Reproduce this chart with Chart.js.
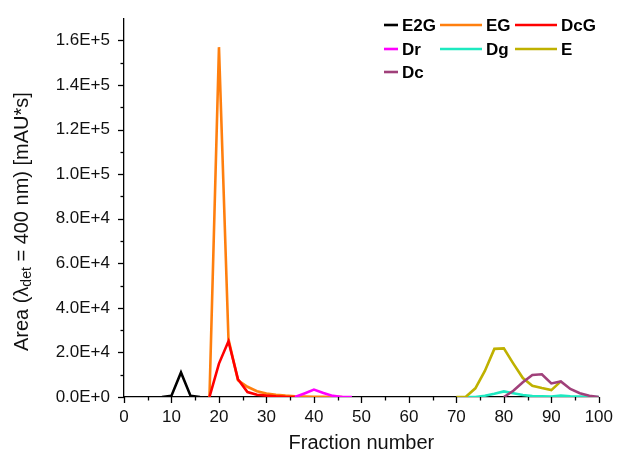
<!DOCTYPE html>
<html>
<head>
<meta charset="utf-8">
<script src="https://cdn.jsdelivr.net/npm/chart.js@4"></script>
<style>
  html, body { margin: 0; padding: 0; background: #fff; }
  #wrap { width: 617px; height: 462px; }
</style>
</head>
<body>
<div id="wrap"><canvas id="chart" width="617" height="462"></canvas></div>
<script>
// series labels and colours
const seriesNames = ["E2G", "EG", "DcG", "Dr", "Dg", "E", "Dc"];
const seriesColors = ["#000000", "#ff7f0e", "#ff0000", "#ff00ff", "#1de9c0", "#bfb100", "#a0407a"];

// fraction numbers and peak areas
const e2gX = [8, 10, 12, 14, 16];
const e2gY = [0, 600, 11000, 600, 0];

const egX = [18, 20, 22, 24, 26, 28, 30, 32, 34, 36, 38, 40, 42, 44, 46];
const egY = [0, 157000, 26000, 7500, 4600, 2600, 1600, 1000, 600, 300, 150, 80, 40, 20, 0];

const dcgX = [18, 20, 22, 24, 26, 28, 30, 32, 34, 36];
const dcgY = [0, 15000, 25000, 8000, 2200, 1000, 600, 300, 100, 0];

const drX = [36, 38, 40, 42, 44, 46, 48];
const drY = [0, 1600, 3300, 1800, 500, 0, 0];

const dgX = [72, 74, 76, 78, 80, 82, 84, 86, 88, 90, 92, 94, 96, 98, 100];
const dgY = [0, 0, 600, 1500, 2500, 1700, 900, 400, 300, 200, 600, 300, 200, 100, 0];

const eX = [70, 72, 74, 76, 78, 80, 82, 84, 86, 88, 90, 92];
const eY = [0, 100, 3900, 11700, 21600, 21800, 15000, 8500, 5000, 4000, 3100, 7000];

const dcX = [80, 82, 84, 86, 88, 90, 92, 94, 96, 98, 100];
const dcY = [0, 2800, 6600, 9900, 10200, 6100, 7000, 3600, 1700, 600, 0];

// axes
const xMin = 0, xMax = 100, xStep = 5, xLabelEvery = 10;
const yMin = 0, yMax = 170000, yStep = 10000, yLabelEvery = 20000;

const allX = [e2gX, egX, dcgX, drX, dgX, eX, dcX];
const allY = [e2gY, egY, dcgY, drY, dgY, eY, dcY];

const FONT = "'Liberation Sans', Arial, sans-serif";

function toPoints(xs, ys) {
  return xs.map((x, i) => ({ x: x, y: ys[i] }));
}

const datasets = seriesNames.map((name, i) => ({
  label: name,
  data: toPoints(allX[i], allY[i]),
  borderColor: seriesColors[i],
  backgroundColor: seriesColors[i],
  borderWidth: 2.6,
  pointRadius: 0,
  tension: 0,
  fill: false,
  order: seriesNames.length - i
}));

// minor/major ticks, y title with subscript, and the 3-column legend
const decorPlugin = {
  id: "decor",
  afterDraw(chart) {
    const ctx = chart.ctx;
    const xs = chart.scales.x, ys = chart.scales.y;
    const area = chart.chartArea;
    ctx.save();
    ctx.strokeStyle = "#000";
    ctx.lineWidth = 1.3;

    for (let v = xMin; v <= xMax; v += xStep) {
      const px = Math.round(xs.getPixelForValue(v)) + 0.5;
      const len = v % xLabelEvery === 0 ? 6 : 3.5;
      ctx.beginPath();
      ctx.moveTo(px, area.bottom);
      ctx.lineTo(px, area.bottom + len);
      ctx.stroke();
    }
    for (let v = yMin; v <= 160000; v += yStep) {
      const py = Math.round(ys.getPixelForValue(v)) + 0.5;
      const len = v % yLabelEvery === 0 ? 6 : 3.5;
      ctx.beginPath();
      ctx.moveTo(area.left, py);
      ctx.lineTo(area.left - len, py);
      ctx.stroke();
    }

    // y axis title
    ctx.fillStyle = "#111";
    ctx.textBaseline = "middle";
    const big = "20px " + FONT, small = "14px " + FONT;
    const parts = [
      { t: "Area (\u03bb", f: big, dy: 0 },
      { t: "det", f: small, dy: 5 },
      { t: " = 400 nm) [mAU*s]", f: big, dy: 0 }
    ];
    let total = 0;
    parts.forEach(p => { ctx.font = p.f; p.w = ctx.measureText(p.t).width; total += p.w; });
    ctx.translate(22, (area.top + area.bottom) / 2 + 14);
    ctx.rotate(-Math.PI / 2);
    let cx = -total / 2;
    ctx.textAlign = "left";
    parts.forEach(p => {
      ctx.font = p.f;
      ctx.fillText(p.t, cx, p.dy);
      cx += p.w;
    });
    ctx.setTransform(1, 0, 0, 1, 0, 0);

    // legend
    const lineStart = [384, 440, 515];
    const lineEnd = [398, 482, 557];
    const textX = [402, 486, 561];
    const rowY = [25, 49, 72];
    ctx.font = "bold 17px " + FONT;
    ctx.textAlign = "left";
    ctx.textBaseline = "middle";
    seriesNames.forEach((name, i) => {
      const c = i % 3, r = Math.floor(i / 3);
      ctx.strokeStyle = seriesColors[i];
      ctx.lineWidth = 2.6;
      ctx.beginPath();
      ctx.moveTo(lineStart[c], rowY[r]);
      ctx.lineTo(lineEnd[c], rowY[r]);
      ctx.stroke();
      ctx.fillStyle = "#000";
      ctx.fillText(name, textX[c], rowY[r] + 1);
    });
    ctx.restore();
  }
};

new Chart(document.getElementById("chart"), {
  type: "line",
  data: { datasets: datasets },
  options: {
    responsive: false,
    animation: false,
    layout: { padding: { top: 11, right: 17, left: 0, bottom: 0 } },
    plugins: {
      legend: { display: false },
      tooltip: { enabled: false }
    },
    scales: {
      x: {
        type: "linear",
        min: xMin,
        max: xMax,
        afterFit: s => { s.height = 65; },
        border: { display: true, color: "#000", width: 1.3 },
        grid: { drawOnChartArea: false, tickLength: 6, tickColor: "transparent" },
        ticks: {
          stepSize: xStep,
          autoSkip: false,
          maxRotation: 0,
          padding: 4,
          color: "#111",
          font: { family: FONT, size: 17 },
          callback: v => (v % xLabelEvery === 0 ? v : "")
        },
        title: {
          display: true,
          text: "Fraction number",
          color: "#111",
          font: { family: FONT, size: 20 },
          padding: { top: 0, bottom: 7 }
        }
      },
      y: {
        min: yMin,
        max: yMax,
        afterFit: s => { s.width = 124; },
        border: { display: true, color: "#000", width: 1.3 },
        grid: { drawOnChartArea: false, tickLength: 6, tickColor: "transparent" },
        ticks: {
          stepSize: yStep,
          autoSkip: false,
          padding: 8,
          color: "#111",
          font: { family: FONT, size: 17 },
          callback: v => (v % yLabelEvery === 0 && v <= 160000
            ? v.toExponential(1).toUpperCase() : "")
        }
      }
    }
  },
  plugins: [decorPlugin]
});
</script>
</body>
</html>
